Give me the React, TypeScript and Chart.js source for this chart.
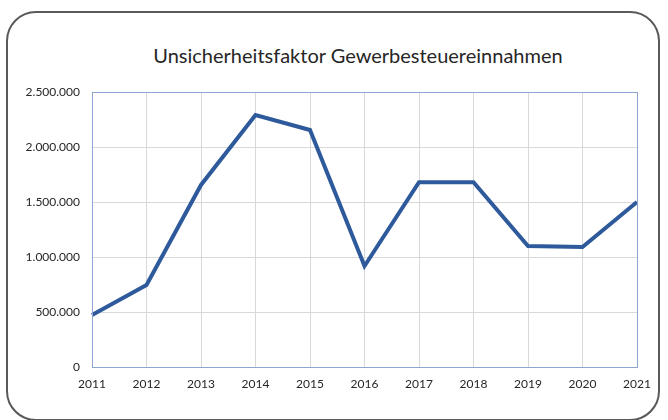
import React, { useEffect, useRef } from "react";
import { Chart, registerables } from "chart.js";

Chart.register(...registerables);

const years = ["2011", "2012", "2013", "2014", "2015", "2016", "2017", "2018", "2019", "2020", "2021"];
const values = [473000, 745000, 1655000, 2290000, 2155000, 918000, 1680000, 1680000, 1100000, 1090000, 1500000];
const titleText = "Unsicherheitsfaktor Gewerbesteuereinnahmen";

const FONT = "Lato, 'Open Sans', sans-serif";

const fmt = (v: number) => {
  if (v === 0) return "0";
  return Math.round(v).toString().replace(/\B(?=(\d{3})+(?!\d))/g, ".");
};

const frame = {
  id: "frame",
  afterDraw(chart: any) {
    const { ctx, chartArea } = chart;
    ctx.save();
    ctx.strokeStyle = "#8EA5CF";
    ctx.lineWidth = 1;
    ctx.strokeRect(chartArea.left + 0.5, chartArea.top + 0.5, chartArea.right - chartArea.left, chartArea.bottom - chartArea.top);
    ctx.restore();
  },
};

export default function App() {
  const ref = useRef<HTMLCanvasElement>(null);
  useEffect(() => {
    document.body.style.margin = "0";
    const chart = new Chart(ref.current!, {
      type: "line",
      data: {
        labels: years,
        datasets: [
          {
            data: values,
            borderColor: "#2E5A9C",
            borderWidth: 4,
            pointRadius: 0,
            tension: 0,
            fill: false,
          },
        ],
      },
      options: {
        animation: false,
        responsive: false,
        layout: { padding: { left: 0, right: 31, top: 92, bottom: 0 } },
        plugins: { legend: { display: false }, title: { display: false }, tooltip: { enabled: false } },
        scales: {
          x: {
            offset: false,
            grid: { color: "#D9D9D9", lineWidth: 1, drawTicks: false },
            border: { display: false },
            ticks: { color: "#262626", font: { family: FONT, size: 12 }, padding: 10, maxRotation: 0 },
            afterFit(scale: any) {
              scale.height = 53;
            },
          },
          y: {
            min: 0,
            max: 2500000,
            grid: { color: "#D9D9D9", lineWidth: 1, drawTicks: false },
            border: { display: false },
            ticks: {
              stepSize: 500000,
              color: "#262626",
              font: { family: FONT, size: 12 },
              padding: 12,
              callback: (v: any) => fmt(Number(v)),
            },
            afterFit(scale: any) {
              scale.width = 92;
            },
          },
        },
      },
      plugins: [frame],
    });
    return () => chart.destroy();
  }, []);

  return (
    <div style={{ position: "relative", width: 668, height: 420, overflow: "hidden", background: "#fff" }}>
      <div
        style={{
          position: "absolute",
          left: 6,
          top: 11,
          width: 654,
          height: 410,
          border: "2px solid #5A5A5A",
          borderRadius: 30,
          boxSizing: "border-box",
        }}
      />
      <div
        style={{
          position: "absolute",
          left: 0,
          width: 716,
          top: 43,
          textAlign: "center",
          fontFamily: FONT,
          fontSize: 20,
          color: "#262626",
          whiteSpace: "nowrap",
        }}
      >
        {titleText}
      </div>
      <canvas ref={ref} width={668} height={420} style={{ position: "absolute", left: 0, top: 0 }} />
    </div>
  );
}
